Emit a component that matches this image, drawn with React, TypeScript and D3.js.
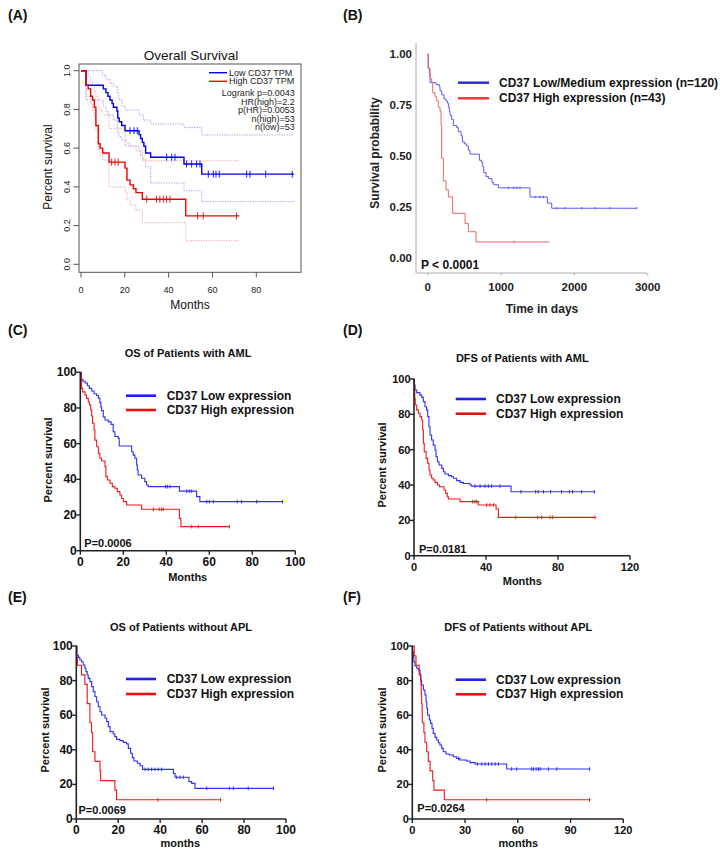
import React from 'react';
import * as d3 from 'd3';

type Pt = [number, number];

const FONT = 'Liberation Sans, Arial, Helvetica, sans-serif';

// ---------------- Panel A (GEPIA style) ----------------
const aXTicks = [0, 20, 40, 60, 80];
const aYTicks = [0, 0.2, 0.4, 0.6, 0.8, 1.0];
const aLow: Pt[] = [[0, 1], [2.3, 0.925], [10.2, 0.906], [11.4, 0.887], [12.3, 0.868], [13.2, 0.849], [14.2, 0.83], [14.8, 0.811], [16.4, 0.792], [16.8, 0.755], [17.5, 0.736], [18.6, 0.717], [20.1, 0.69], [26.5, 0.67], [27.2, 0.65], [28.0, 0.63], [28.7, 0.61], [29.5, 0.575], [31.8, 0.553], [47.0, 0.518], [55.1, 0.466]];
const aLowEnd = 97.2;
const aLowCensor = [22.4, 24.2, 25.7, 39.1, 41.4, 42.9, 48.2, 50.5, 52.8, 54.3, 58.1, 60.4, 61.6, 63.1, 75.6, 77.1, 84.3, 96.4];
const aHigh: Pt[] = [[0, 1], [2.3, 0.925], [3.3, 0.906], [4.4, 0.868], [5.3, 0.849], [6.1, 0.811], [6.8, 0.717], [7.9, 0.623], [8.7, 0.6], [9.9, 0.575], [12.8, 0.528], [20.1, 0.497], [21.0, 0.435], [22.4, 0.41], [23.9, 0.39], [25.1, 0.37], [28.0, 0.336], [47.8, 0.25]];
const aHighEnd = 72.1;
const aHighCensor = [14, 15.5, 17, 30, 34.5, 36, 37.6, 39.1, 40.6, 53.2, 55.8, 71];
const aLowUpper: Pt[] = [[0, 1], [9.8, 0.978], [11.4, 0.957], [13.2, 0.935], [14.8, 0.92], [16.6, 0.883], [17.3, 0.849], [18.6, 0.818], [20.1, 0.797], [26.5, 0.771], [28.5, 0.745], [31.8, 0.725], [47, 0.706], [55.1, 0.668]];
const aLowLower: Pt[] = [[0, 1], [2.3, 0.849], [10.2, 0.814], [11.4, 0.788], [12.5, 0.771], [14.8, 0.745], [16.6, 0.685], [17.3, 0.659], [18.6, 0.642], [20.1, 0.611], [26.5, 0.582], [27.2, 0.564], [28, 0.545], [29.5, 0.504], [31.8, 0.42], [47, 0.38], [55.1, 0.324]];
const aHighUpper: Pt[] = [[0, 1], [3.3, 0.97], [4.4, 0.943], [5.3, 0.926], [6.1, 0.891], [6.8, 0.866], [7.9, 0.814], [8.7, 0.793], [9.9, 0.771], [12.8, 0.702], [20.1, 0.642], [21, 0.625], [22.4, 0.608], [25.1, 0.587], [28, 0.535]];
const aHighLower: Pt[] = [[0, 1], [2.3, 0.866], [4.4, 0.831], [5.3, 0.797], [6.1, 0.762], [6.8, 0.694], [7.9, 0.59], [8.7, 0.565], [9.9, 0.539], [12.8, 0.4], [20.1, 0.375], [21, 0.332], [22.4, 0.306], [25.1, 0.28], [28, 0.215], [47.8, 0.122]];
const aLegend = ['Low CD37 TPM', 'High CD37 TPM'];
const aStats = ['Logrank p=0.0043', 'HR(high)=2.2', 'p(HR)=0.0053', 'n(high)=53', 'n(low)=53'];

// ---------------- Panel B (ggplot style) ----------------
const bXTicks = [0, 1000, 2000, 3000];
const bYTicks = [0, 0.25, 0.5, 0.75, 1.0];
const bLow: Pt[] = [[0, 1], [9, 0.93], [23, 0.9], [32, 0.86], [114, 0.85], [159, 0.84], [168, 0.82], [191, 0.8], [223, 0.78], [250, 0.77], [268, 0.76], [282, 0.74], [295, 0.72], [305, 0.7], [327, 0.68], [350, 0.65], [395, 0.64], [418, 0.62], [455, 0.6], [473, 0.57], [500, 0.56], [532, 0.55], [555, 0.53], [577, 0.51], [705, 0.48], [732, 0.47], [750, 0.45], [764, 0.42], [795, 0.4], [832, 0.39], [877, 0.37], [900, 0.36], [964, 0.345], [1395, 0.3], [1632, 0.27], [1691, 0.245]];
const bLowEnd = 2850;
const bLowCensor = [1100, 1168, 1214, 1259, 1464, 1532, 1577, 1759, 1873, 2100, 2282, 2486, 2850];
const bHigh: Pt[] = [[0, 1], [5, 0.93], [32, 0.88], [55, 0.86], [68, 0.81], [100, 0.79], [123, 0.77], [145, 0.74], [168, 0.72], [182, 0.65], [190, 0.49], [214, 0.38], [250, 0.335], [282, 0.3], [340, 0.22], [510, 0.17], [555, 0.13], [659, 0.08]];
const bHighEnd = 1660;
const bHighCensor = [1177];
const bLegend = ['CD37 Low/Medium expression (n=120)', 'CD37 High expression (n=43)'];

// ---------------- Panels C-F (GraphPad style) ----------------
const gpLegend = ['CD37 Low expression', 'CD37 High expression'];
const gpYTicks = [0, 20, 40, 60, 80, 100];

const cXTicks = [0, 20, 40, 60, 80, 100];
const cLow: Pt[] = [[0, 100], [0.5, 96], [1.2, 95], [2.2, 94], [3.3, 92.5], [4.2, 91], [5.3, 89.5], [6.4, 88], [7.6, 87], [8.4, 85.5], [9.1, 83], [9.6, 80.5], [9.9, 78.5], [10.7, 75], [11.5, 73.3], [13.0, 72.2], [14.3, 70.8], [15.3, 66.7], [16.1, 64], [17.6, 63], [18.1, 58.7], [23.9, 55.5], [24.6, 53.6], [25.4, 51.8], [26.2, 48], [26.5, 45.2], [26.9, 42.4], [28.5, 40.6], [30.0, 38.7], [30.8, 36.8], [31.6, 35.9], [46.1, 33.4], [54.1, 30.3], [55.6, 27.5]];
const cLowEnd = 94.1;
const cLowCensor = [39.7, 40.5, 41.7, 49.5, 50.7, 51.8, 58.8, 60, 61.9, 73, 75, 82, 94.1];
const cHigh: Pt[] = [[0, 100], [0.3, 97], [0.6, 91], [1.1, 89], [2.2, 87.3], [2.9, 85.4], [3.7, 83.5], [4.2, 81.7], [4.8, 79], [5.3, 75.5], [5.7, 71.4], [6.4, 67.7], [6.8, 62], [7.6, 58.3], [8.4, 54.6], [9.1, 51.8], [9.9, 50.3], [11.5, 47.1], [11.9, 41.5], [12.6, 39.6], [13.8, 37.8], [14.9, 35.9], [16.1, 35], [17.2, 33.1], [18.4, 31.2], [19.2, 29.3], [20, 27.5], [21.5, 25.6], [28.5, 23.2], [46.1, 18.1], [46.8, 13.5]];
const cHighEnd = 69.3;
const cHighCensor = [34, 36.7, 37.8, 38.6, 51.8, 54.9, 69.3];

const dXTicks = [0, 40, 80, 120];
const dLow: Pt[] = [[0, 100], [0.2, 96.6], [0.6, 93.8], [1.5, 92.3], [3.3, 90.9], [4.3, 89.6], [5.2, 87.2], [6.1, 84.3], [7.0, 82.5], [7.6, 78.7], [8.3, 73], [8.9, 68.3], [9.8, 65.5], [10.7, 62.6], [11.7, 59.8], [12.2, 56], [13.0, 53.2], [13.9, 51.3], [15.4, 49.4], [16.3, 47.5], [17.2, 46.2], [19.1, 45.3], [20.9, 44.7], [21.9, 43.8], [23.7, 42.5], [25.6, 41.5], [27.4, 40.9], [31.1, 40], [32, 39.4], [53.9, 36.2]];
const dLowEnd = 100.2;
const dLowCensor = [33.9, 36.7, 39.4, 41.3, 43.1, 47.8, 59.4, 67.6, 69, 71.9, 75.9, 82, 86.3, 88.1, 93.1, 100.2];
const dHigh: Pt[] = [[0, 100], [0.2, 93.8], [0.4, 89], [0.7, 85.3], [1.5, 82.5], [2.4, 80.6], [3.3, 78.7], [4.3, 76.8], [4.8, 71.1], [5.2, 63.6], [5.7, 58.9], [6.7, 55.1], [7.6, 52.3], [8.3, 48.5], [8.9, 45.7], [9.8, 43.8], [10.7, 42.8], [11.7, 41.5], [13.0, 40], [14.1, 39], [16.7, 37.2], [17.6, 35.3], [18.5, 33.4], [19.1, 32.1], [25.6, 30.6], [35.7, 28.7], [45.6, 26.4], [46.9, 21.7]];
const dHighEnd = 100.6;
const dHighCensor = [32.6, 33.9, 34.8, 40.4, 42.2, 44.1, 56.5, 68.7, 70.9, 75.6, 77, 100.6];

const eXTicks = [0, 20, 40, 60, 80, 100];
const eLow: Pt[] = [[0, 100], [0.3, 94.8], [1.0, 93.4], [1.7, 91.9], [2.5, 90.9], [3.3, 89], [4.1, 87.1], [4.6, 85.2], [5.2, 83.2], [5.7, 81.3], [6.5, 79.4], [7.3, 76.5], [8.1, 73.6], [8.9, 70.7], [9.7, 67.8], [10.5, 64.9], [11.3, 62], [12.1, 60.1], [13.7, 58.2], [14.5, 56.3], [15.3, 53.4], [16.1, 50.5], [17.6, 49.1], [18.4, 47.6], [19.2, 46], [20.8, 45.3], [22.4, 44.3], [24, 43.4], [24.8, 40.8], [25.9, 38], [26.7, 35.5], [27.5, 33.5], [29.1, 32.2], [30.4, 30.8], [31.6, 28.7], [46.3, 26.4], [47.1, 24.1], [53.7, 21.6], [55, 20.6], [56.6, 17.7]];
const eLowEnd = 94.0;
const eLowCensor = [32.8, 34.3, 35.9, 37.5, 39.1, 40.7, 47.9, 49.4, 51, 62.2, 73, 74.9, 82, 94];
const eHigh: Pt[] = [[0, 100], [0.2, 94.4], [0.5, 88.9], [2.5, 83.3], [4.1, 77.8], [5.2, 66.7], [6.5, 55.6], [7.3, 50], [7.8, 38.9], [8.9, 33.3], [11.3, 27.8], [11.6, 22.2], [18.4, 16.7], [19.2, 11.1]];
const eHighEnd = 68.8;
const eHighCensor = [38.9, 68.8];

const fXTicks = [0, 30, 60, 90, 120];
const fLow: Pt[] = [[0, 100], [0.2, 96.7], [0.6, 93.8], [0.9, 90.9], [1.5, 88.4], [2.5, 87.1], [3.4, 86.1], [4.4, 83.8], [4.7, 80.3], [5.3, 77.5], [6.3, 74.6], [7.2, 71.7], [7.8, 67.8], [8.2, 64], [8.7, 60.1], [9.7, 57.2], [10.4, 55.3], [11.2, 52.4], [11.9, 49.5], [12.9, 47.2], [13.9, 45.7], [14.8, 44.1], [15.7, 42.8], [16.7, 40.8], [17.6, 38.9], [19.2, 37.6], [21.1, 37], [23.3, 36], [25.2, 35], [27.1, 34.1], [30.9, 33.5], [32.8, 32.6], [35.7, 31.8], [53.7, 28.9]];
const fLowEnd = 100.8;
const fLowCensor = [26.4, 37, 39.5, 41.4, 43.3, 45.2, 47.1, 49, 56.5, 59.4, 67.9, 68.9, 70.4, 71.7, 72.7, 77.4, 82.2, 100.8];
const fHigh: Pt[] = [[0, 100], [1.1, 94.4], [2.1, 88.9], [3.9, 83.3], [4.9, 77.8], [5.1, 72.2], [5.3, 66.7], [5.6, 61.1], [5.7, 55.6], [6.6, 50], [7.2, 44.4], [8.2, 38.9], [9.1, 33.3], [10.1, 27.8], [11.6, 22.2], [12.3, 16.7], [18.2, 11.1]];
const fHighEnd = 100.8;
const fHighCensor = [42.3, 100.8];

// ---------------- helpers ----------------
function valueAt(steps: Pt[], t: number) {
  let s = steps[0][1];
  for (const [tt, ss] of steps) {
    if (tt <= t) s = ss;
    else break;
  }
  return s;
}

function stepPath(steps: Pt[], end: number, x: d3.ScaleLinear<number, number>, y: d3.ScaleLinear<number, number>) {
  const pts: Pt[] = [...steps, [end, steps[steps.length - 1][1]]];
  return d3.line<Pt>().x(d => x(d[0])).y(d => y(d[1])).curve(d3.curveStepAfter)(pts) || '';
}

function Censors({ steps, times, x, y, color, h, w }: any) {
  return (
    <g stroke={color} strokeWidth={w}>
      {times.map((t: number, i: number) => {
        const cx = x(t);
        const cy = y(valueAt(steps, t));
        return <line key={i} x1={cx} x2={cx} y1={cy - h} y2={cy + h} />;
      })}
    </g>
  );
}

// ---------------- Panel A ----------------
function PanelA() {
  const x = d3.scaleLinear().domain([-0.9, 100.4]).range([79, 301]);
  const y = d3.scaleLinear().domain([0, 1]).range([264.3, 70.7]);
  const blue = '#0000ee';
  const red = '#ee0000';
  const ciBlue = '#9a9af5';
  const ciRed = '#f5a0a0';
  return (
    <g fontFamily={FONT}>
      <text x={191} y={60} fontSize={13.5} textAnchor="middle" fill="#111">Overall Survival</text>
      <rect x={79} y={64} width={222} height={208.3} fill="none" stroke="#555" strokeWidth={1} />
      {aXTicks.map(t => (
        <g key={t}>
          <line x1={x(t)} x2={x(t)} y1={272.3} y2={277.5} stroke="#555" />
          <text x={x(t)} y={292.5} fontSize={9} textAnchor="middle" fill="#222">{t}</text>
        </g>
      ))}
      {aYTicks.map(t => (
        <g key={t}>
          <line x1={73.5} x2={79} y1={y(t)} y2={y(t)} stroke="#555" />
          <text transform={`translate(66.7,${y(t)}) rotate(-90)`} fontSize={9} textAnchor="middle" dominantBaseline="central" fill="#222">{t.toFixed(1)}</text>
        </g>
      ))}
      <text x={190} y={308.5} fontSize={12} textAnchor="middle" fill="#111">Months</text>
      <text transform="translate(48,167) rotate(-90)" fontSize={12} textAnchor="middle" dominantBaseline="central" fill="#111">Percent survival</text>
      <g fill="none" strokeWidth={1} strokeDasharray="1.2,1.3">
        <path d={stepPath(aLowUpper, aLowEnd, x, y)} stroke={ciBlue} />
        <path d={stepPath(aLowLower, aLowEnd, x, y)} stroke={ciBlue} />
        <path d={stepPath(aHighUpper, aHighEnd, x, y)} stroke={ciRed} />
        <path d={stepPath(aHighLower, aHighEnd, x, y)} stroke={ciRed} />
      </g>
      <path d={stepPath(aLow, aLowEnd, x, y)} fill="none" stroke={blue} strokeWidth={1.4} />
      <path d={stepPath(aHigh, aHighEnd, x, y)} fill="none" stroke={red} strokeWidth={1.4} />
      <Censors steps={aLow} times={aLowCensor} x={x} y={y} color={blue} h={3.5} w={0.9} />
      <Censors steps={aHigh} times={aHighCensor} x={x} y={y} color={red} h={3.5} w={0.9} />
      <line x1={209} x2={227} y1={72.7} y2={72.7} stroke={blue} strokeWidth={1.4} />
      <line x1={209} x2={227} y1={81.3} y2={81.3} stroke={red} strokeWidth={1.4} />
      <text x={229} y={72.7} fontSize={9} dominantBaseline="central" fill="#222">{aLegend[0]}</text>
      <text x={229} y={81.3} fontSize={9} dominantBaseline="central" fill="#222">{aLegend[1]}</text>
      {aStats.map((s, i) => (
        <text key={s} x={294.7} y={93.3 + i * 8.4} fontSize={9} textAnchor="end" dominantBaseline="central" fill="#222">{s}</text>
      ))}
    </g>
  );
}

// ---------------- Panel B ----------------
function PanelB() {
  const x = d3.scaleLinear().domain([0, 3000]).range([427.7, 647.7]);
  const y = d3.scaleLinear().domain([0, 1]).range([258.3, 54]);
  const blue = '#5a5af2';
  const red = '#f06464';
  return (
    <g fontFamily={FONT} fontWeight="bold">
      <line x1={416} x2={416} y1={43} y2={273} stroke="#aaa" strokeWidth={1} />
      <line x1={416} x2={647} y1={273} y2={273} stroke="#aaa" strokeWidth={1} />
      {bYTicks.map(t => (
        <text key={t} x={412} y={y(t)} fontSize={11.5} textAnchor="end" dominantBaseline="central" fill="#222">{t.toFixed(2)}</text>
      ))}
      {bXTicks.map(t => (
        <g key={t}>
          <line x1={x(t)} x2={x(t)} y1={273} y2={275.5} stroke="#aaa" />
          <text x={x(t)} y={287.3} fontSize={11.5} textAnchor="middle" dominantBaseline="central" fill="#222">{t}</text>
        </g>
      ))}
      <text x={542} y={313} fontSize={12} textAnchor="middle" fill="#222">Time in days</text>
      <text transform="translate(375,153) rotate(-90)" fontSize={12} textAnchor="middle" dominantBaseline="central" fill="#222">Survival probability</text>
      <path d={stepPath(bLow, bLowEnd, x, y)} fill="none" stroke={blue} strokeWidth={1} />
      <path d={stepPath(bHigh, bHighEnd, x, y)} fill="none" stroke={red} strokeWidth={1} />
      <Censors steps={bLow} times={bLowCensor} x={x} y={y} color={blue} h={1.2} w={1} />
      <Censors steps={bHigh} times={bHighCensor} x={x} y={y} color={red} h={1.2} w={1} />
      <line x1={458} x2={489} y1={82.7} y2={82.7} stroke="#2a2ae6" strokeWidth={2.5} />
      <line x1={458} x2={489} y1={98.3} y2={98.3} stroke="#ec3a3a" strokeWidth={2.5} />
      <text x={499} y={82.7} fontSize={12} dominantBaseline="central" fill="#111">{bLegend[0]}</text>
      <text x={499} y={98.3} fontSize={12} dominantBaseline="central" fill="#111">{bLegend[1]}</text>
      <text x={421} y={265} fontSize={12} dominantBaseline="central" fill="#111">P &lt; 0.0001</text>
    </g>
  );
}

// ---------------- Panels C-F ----------------
function GPPanel(p: any) {
  const x = d3.scaleLinear().domain(p.xDomain).range(p.xRange);
  const y = d3.scaleLinear().domain([0, 100]).range(p.yRange);
  const [x0, x1] = p.xRange;
  const [y0, y1] = p.yRange;
  const blue = '#2f2ff5';
  const red = '#f01818';
  return (
    <g fontFamily={FONT} fontWeight="bold" fill="#111">
      <text x={p.titleX} y={p.titleY} fontSize={11} textAnchor="middle" dominantBaseline="central">{p.title}</text>
      <path d={stepPath(p.low, p.lowEnd, x, y)} fill="none" stroke={blue} strokeWidth={1.1} />
      <path d={stepPath(p.high, p.highEnd, x, y)} fill="none" stroke={red} strokeWidth={1.1} />
      <Censors steps={p.low} times={p.lowCensor} x={x} y={y} color={blue} h={1.8} w={1} />
      <Censors steps={p.high} times={p.highCensor} x={x} y={y} color={red} h={1.8} w={1} />
      <line x1={x0} x2={x0} y1={y1} y2={y0 + 0.8} stroke="#222" strokeWidth={1.6} />
      <line x1={x0} x2={x1} y1={y0} y2={y0} stroke="#222" strokeWidth={1.6} />
      {gpYTicks.map(t => (
        <g key={t}>
          <line x1={x0 - 4} x2={x0} y1={y(t)} y2={y(t)} stroke="#222" strokeWidth={1.4} />
          <text x={x0 - 3.5} y={y(t)} fontSize={p.tickFont} textAnchor="end" dominantBaseline="central">{t}</text>
        </g>
      ))}
      {p.xTicks.map((t: number) => (
        <g key={t}>
          <line x1={x(t)} x2={x(t)} y1={y0} y2={y0 + 4} stroke="#222" strokeWidth={1.4} />
          <text x={x(t)} y={y0 + 11} fontSize={p.tickFont} textAnchor="middle" dominantBaseline="central">{t}</text>
        </g>
      ))}
      <text x={p.xLabelX} y={p.xLabelY} fontSize={11} textAnchor="middle" dominantBaseline="central">{p.xLabel}</text>
      <text transform={`translate(${p.yLabelX},${p.yLabelY}) rotate(-90)`} fontSize={11} textAnchor="middle" dominantBaseline="central">Percent survival</text>
      <line x1={p.legX1} x2={p.legX2} y1={p.legY1} y2={p.legY1} stroke="#1f1fee" strokeWidth={2.6} />
      <line x1={p.legX1} x2={p.legX2} y1={p.legY2} y2={p.legY2} stroke="#ee1010" strokeWidth={2.6} />
      <text x={p.legTextX} y={p.legY1} fontSize={12} dominantBaseline="central">{gpLegend[0]}</text>
      <text x={p.legTextX} y={p.legY2} fontSize={12} dominantBaseline="central">{gpLegend[1]}</text>
      <text x={p.pX} y={p.pY} fontSize={11} dominantBaseline="central">{p.pText}</text>
    </g>
  );
}

export default function App() {
  const labels: [string, number, number][] = [
    ['(A)', 8, 20], ['(B)', 343, 20], ['(C)', 8, 335], ['(D)', 343, 335], ['(E)', 8, 602], ['(F)', 343, 602],
  ];
  return (
    <svg width={720} height={850} style={{ position: 'absolute', left: 0, top: 0, background: '#fff' }}>
      <rect x={0} y={0} width={720} height={850} fill="#fff" />
      {labels.map(([t, lx, ly]) => (
        <text key={t} x={lx} y={ly} fontFamily={FONT} fontWeight="bold" fontSize={14} fill="#111">{t}</text>
      ))}
      <PanelA />
      <PanelB />
      <GPPanel title="OS of Patients with AML" titleX={188} titleY={353.3} xDomain={[0, 100]} xRange={[80.3, 295.3]} yRange={[550.7, 372.3]}
        xTicks={cXTicks} tickFont={12} xLabel="Months" xLabelX={187.7} xLabelY={576.7} yLabelX={48.3} yLabelY={460}
        legX1={126} legX2={156} legY1={395.7} legY2={410} legTextX={166.7} pText="P=0.0006" pX={84.3} pY={543.3}
        low={cLow} lowEnd={cLowEnd} lowCensor={cLowCensor} high={cHigh} highEnd={cHighEnd} highCensor={cHighCensor} />
      <GPPanel title="DFS of Patients with AML" titleX={522.3} titleY={358.3} xDomain={[0, 120]} xRange={[414, 630]} yRange={[555.7, 379]}
        xTicks={dXTicks} tickFont={11} xLabel="Months" xLabelX={522.3} xLabelY={581} yLabelX={381.7} yLabelY={465}
        legX1={455.7} legX2={486} legY1={399} legY2={413.7} legTextX={496} pText="P=0.0181" pX={419} pY={549.3}
        low={dLow} lowEnd={dLowEnd} lowCensor={dLowCensor} high={dHigh} highEnd={dHighEnd} highCensor={dHighCensor} />
      <GPPanel title="OS of Patients without APL" titleX={181} titleY={626.7} xDomain={[0, 100]} xRange={[76.3, 286]} yRange={[819, 646]}
        xTicks={eXTicks} tickFont={12} xLabel="months" xLabelX={180.3} xLabelY={843.3} yLabelX={45} yLabelY={730}
        legX1={126} legX2={156} legY1={679} legY2={694} legTextX={166.7} pText="P=0.0069" pX={78.5} pY={810}
        low={eLow} lowEnd={eLowEnd} lowCensor={eLowCensor} high={eHigh} highEnd={eHighEnd} highCensor={eHighCensor} />
      <GPPanel title="DFS of Patients without APL" titleX={518.3} titleY={626.7} xDomain={[0, 120]} xRange={[412.3, 623.3]} yRange={[819, 646]}
        xTicks={fXTicks} tickFont={11} xLabel="months" xLabelX={518.3} xLabelY={843.3} yLabelX={381.7} yLabelY={730}
        legX1={455.7} legX2={486} legY1={679.7} legY2={694.3} legTextX={496} pText="P=0.0264" pX={417.3} pY={808.3}
        low={fLow} lowEnd={fLowEnd} lowCensor={fLowCensor} high={fHigh} highEnd={fHighEnd} highCensor={fHighCensor} />
    </svg>
  );
}
